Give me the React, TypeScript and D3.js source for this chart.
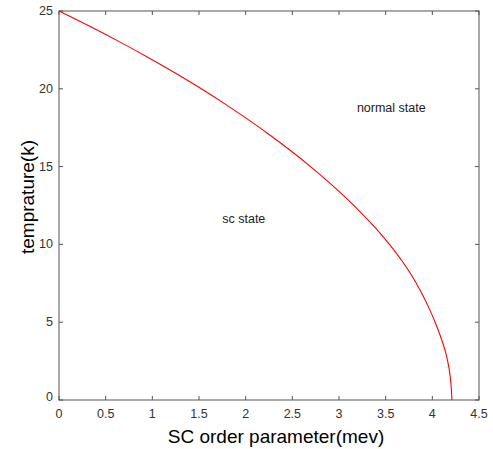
import * as d3 from 'd3';

// order parameter (mev), at temperatures 25 down to 0 K
const temperature = [25, 24, 23, 22, 21, 20, 19, 18, 17, 16, 15, 14, 13, 12, 11, 10, 9, 8, 7, 6, 5, 4, 3, 2, 1, 0];
const gap = [0, 0.335, 0.655, 0.96, 1.25, 1.525, 1.785, 2.032, 2.266, 2.487, 2.695, 2.89, 3.072, 3.242, 3.4, 3.54, 3.668, 3.779, 3.874, 3.957, 4.03, 4.093, 4.145, 4.18, 4.2, 4.21];

const xTicks = [0, 0.5, 1, 1.5, 2, 2.5, 3, 3.5, 4, 4.5];
const yTicks = [0, 5, 10, 15, 20, 25];

const labels = [
  { text: 'normal state', x: 3.56, y: 18.5 },
  { text: 'sc state', x: 1.98, y: 11.4 }
];

const W = 493;
const H = 449;
const left = 59;
const right = 479;
const top = 11;
const bottom = 400;
const font = 'Arial, "Liberation Sans", Helvetica, sans-serif';

export default function App() {
  const x = d3.scaleLinear().domain([0, 4.5]).range([left, right]);
  const y = d3.scaleLinear().domain([0, 25]).range([bottom, top]);

  const line = d3
    .line<number>()
    .x((_, i) => x(gap[i]))
    .y((t) => y(t))
    .curve(d3.curveCatmullRom.alpha(0.5));

  const axisColor = '#555';
  const tickLen = 4;

  return (
    <svg width={W} height={H} style={{ position: 'absolute', left: 0, top: 0, background: '#fff' }}>
      <rect x={left} y={top} width={right - left} height={bottom - top} fill="#fff" stroke={axisColor} strokeWidth={1} />

      {xTicks.map((t) => (
        <g key={`x${t}`}>
          <line x1={x(t)} x2={x(t)} y1={bottom} y2={bottom - tickLen} stroke={axisColor} />
          <line x1={x(t)} x2={x(t)} y1={top} y2={top + tickLen} stroke={axisColor} />
          <text x={x(t)} y={bottom + 18} textAnchor="middle" fontFamily={font} fontSize={12.5} fill="#333">
            {t}
          </text>
        </g>
      ))}

      {yTicks.map((t) => (
        <g key={`y${t}`}>
          <line x1={left} x2={left + tickLen} y1={y(t)} y2={y(t)} stroke={axisColor} />
          <line x1={right} x2={right - tickLen} y1={y(t)} y2={y(t)} stroke={axisColor} />
          <text x={left - 6} y={y(t) + (t === 0 ? 1 : 4)} textAnchor="end" fontFamily={font} fontSize={12.5} fill="#333">
            {t}
          </text>
        </g>
      ))}

      <path d={line(temperature) || ''} fill="none" stroke="#ff0000" strokeWidth={1.1} />

      {labels.map((l) => (
        <text key={l.text} x={x(l.x)} y={y(l.y)} textAnchor="middle" fontFamily={font} fontSize={12.5} fill="#222">
          {l.text}
        </text>
      ))}

      <text x={276} y={443} textAnchor="middle" fontFamily={font} fontSize={19} fill="#000">
        SC order parameter(mev)
      </text>
      <text
        transform={`translate(34, 197) rotate(-90)`}
        textAnchor="middle"
        fontFamily={font}
        fontSize={19}
        fill="#000"
      >
        temprature(k)
      </text>
    </svg>
  );
}
